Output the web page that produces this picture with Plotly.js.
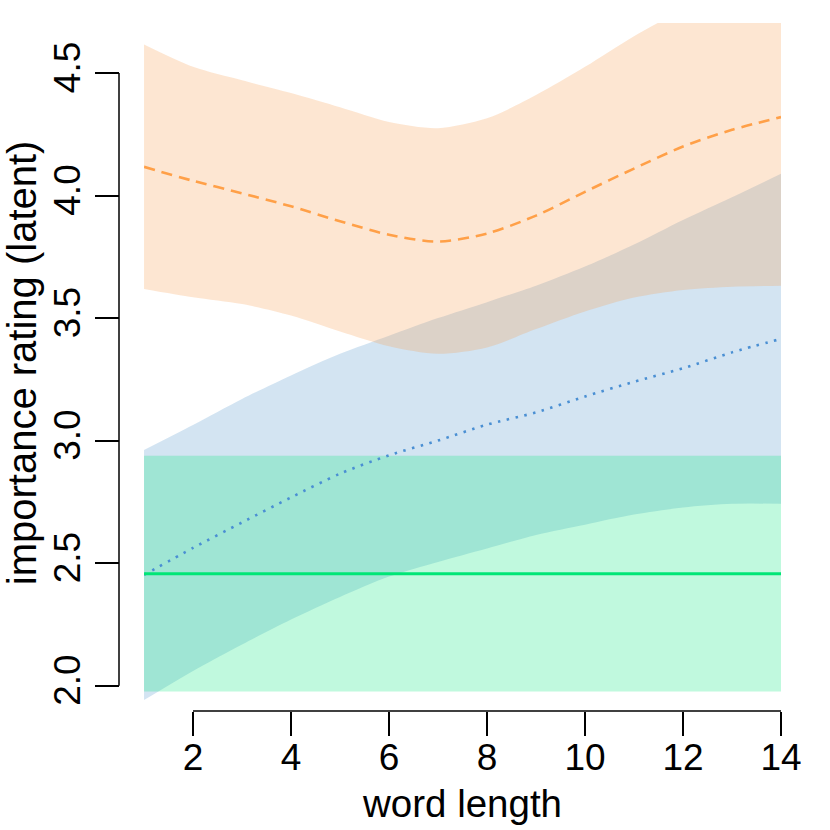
<!DOCTYPE html>
<html>
<head>
<meta charset="utf-8">
<script src="https://cdn.plot.ly/plotly-3.0.1.min.js"></script>
<style>
  html, body { margin: 0; padding: 0; background: #fff; }
  #myDiv { width: 830px; height: 830px; }
</style>
</head>
<body>
<div id="myDiv"></div>
<script>
// word length grid
var wordLength = [1, 2, 3, 4, 5, 6, 7, 8, 9, 10, 11, 12, 13, 14];

// orange (dashed) curve and band
var orangeMean  = [4.117, 4.06, 4.009, 3.956, 3.895, 3.84, 3.812, 3.845, 3.918, 4.015, 4.11, 4.20, 4.268, 4.32];
var orangeUpper = [4.616, 4.525, 4.47, 4.418, 4.36, 4.30, 4.275, 4.315, 4.41, 4.525, 4.65, 4.76, 4.87, 4.97];
var orangeLower = [3.619, 3.585, 3.557, 3.51, 3.445, 3.385, 3.354, 3.38, 3.455, 3.527, 3.584, 3.615, 3.628, 3.632];

// blue (dotted) curve and band
var blueMean  = [2.452, 2.562, 2.666, 2.768, 2.865, 2.94, 3.0, 3.065, 3.115, 3.18, 3.24, 3.295, 3.36, 3.415];
var blueUpper = [2.962, 3.064, 3.17, 3.266, 3.354, 3.428, 3.50, 3.565, 3.632, 3.71, 3.80, 3.90, 3.993, 4.089];
var blueLower = [1.941, 2.06, 2.168, 2.27, 2.362, 2.445, 2.505, 2.56, 2.615, 2.657, 2.698, 2.727, 2.742, 2.742];

// green (solid) flat line and band
var greenX = [1, 14];
var greenMean  = [2.457, 2.457];
var greenUpper = [2.938, 2.938];
var greenLower = [1.976, 1.976];

var xTicks = [2, 4, 6, 8, 10, 12, 14];
var yTicks = [2.0, 2.5, 3.0, 3.5, 4.0, 4.5];
var yTickText = ['2.0', '2.5', '3.0', '3.5', '4.0', '4.5'];

// lower edge, then upper edge filled down to it
function band(x, lo, hi, color, shape) {
  var base = {
    x: x, mode: 'lines', hoverinfo: 'skip', showlegend: false,
    line: {width: 0, color: 'rgba(0,0,0,0)', shape: shape, smoothing: 0.8}
  };
  return [
    Object.assign({}, base, {y: lo, fill: 'none'}),
    Object.assign({}, base, {y: hi, fill: 'tonexty', fillcolor: color})
  ];
}

function curve(x, y, color, dash, width, shape) {
  return {
    x: x, y: y,
    mode: 'lines',
    line: {color: color, dash: dash, width: width, shape: shape, smoothing: 0.8},
    showlegend: false
  };
}

var data = [].concat(
  band(wordLength, blueLower, blueUpper, 'rgba(79,147,203,0.25)', 'spline'),
  band(greenX, greenLower, greenUpper, 'rgba(3,231,123,0.25)', 'linear'),
  band(wordLength, orangeLower, orangeUpper, 'rgba(247,155,75,0.25)', 'spline'),
  [
    curve(wordLength, orangeMean, '#ffa048', '11px,7px', 2.6, 'spline'),
    curve(wordLength, blueMean, '#4a8fd3', '2.5px,6.5px', 2.6, 'spline'),
    curve(greenX, greenMean, '#00e676', 'solid', 3, 'linear')
  ]
);

var font = 'Liberation Sans, Arial, Helvetica, sans-serif';

var layout = {
  width: 830,
  height: 830,
  margin: {l: 119, r: 49, t: 23, b: 119},
  paper_bgcolor: '#fff',
  plot_bgcolor: '#fff',
  showlegend: false,
  font: {family: font, color: '#000'},
  xaxis: {
    range: [1, 14],
    domain: [0.0378, 1],
    anchor: 'free',
    position: 0,
    tickvals: xTicks,
    ticks: 'outside',
    ticklen: 24,
    tickwidth: 1.5,
    tickcolor: '#000',
    tickfont: {size: 37, family: font},
    ticklabelstandoff: -10,
    showline: false,
    showgrid: false,
    zeroline: false,
    automargin: false,
    title: {text: 'word length', font: {size: 38.5, family: font}, standoff: 12}
  },
  yaxis: {
    range: [1.93, 4.704],
    domain: [0.0119, 1],
    anchor: 'free',
    position: 0,
    tickvals: yTicks,
    ticktext: yTickText,
    tickangle: -90,
    ticks: 'outside',
    ticklen: 24,
    tickwidth: 1.5,
    tickcolor: '#000',
    tickfont: {size: 37, family: font},
    showline: false,
    showgrid: false,
    zeroline: false,
    automargin: false,
    title: {text: 'importance rating (latent)', font: {size: 40, family: font}, standoff: 12}
  },
  shapes: [
    {type: 'line', xref: 'x', yref: 'paper', x0: 2, x1: 14, y0: 0, y1: 0,
     line: {color: '#000', width: 1.5}},
    {type: 'line', xref: 'paper', yref: 'y', x0: 0, x1: 0, y0: 2.0, y1: 4.5,
     line: {color: '#000', width: 1.5}}
  ]
};

Plotly.newPlot('myDiv', data, layout, {displayModeBar: false});
</script>
</body>
</html>
